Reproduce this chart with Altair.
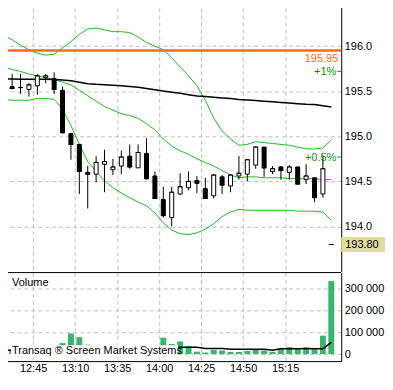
import altair as alt
import pandas as pd

# 5-minute bar start times (first one only feeds the indicator lines)
times = ["12:25", "12:30", "12:35", "12:40", "12:45", "12:50", "12:55", "13:00", "13:05", "13:10",
         "13:15", "13:20", "13:25", "13:30", "13:35", "13:40", "13:45", "13:50", "13:55", "14:00",
         "14:05", "14:10", "14:15", "14:20", "14:25", "14:30", "14:35", "14:40", "14:45", "14:50",
         "14:55", "15:00", "15:05", "15:10", "15:15", "15:20", "15:25", "15:30", "15:35", "15:40"]

# OHLC for bars 12:30 .. 15:40
opens = [195.55, 195.54, 195.52, 195.56, 195.65, 195.64, 195.51, 195.03, 194.91, 194.60,
         194.58, 194.69, 194.63, 194.67, 194.78, 194.65, 194.81, 194.56, 194.30, 194.10,
         194.36, 194.43, 194.51, 194.42, 194.34, 194.55, 194.45, 194.56, 194.58, 194.68,
         194.88, 194.61, 194.66, 194.60, 194.66, 194.52, 194.54, 194.36, 193.80]
highs = [195.69, 195.69, 195.59, 195.69, 195.69, 195.71, 195.55, 195.04, 194.91, 194.67,
         194.78, 194.85, 194.75, 194.84, 194.91, 194.91, 194.98, 194.61, 194.44, 194.44,
         194.59, 194.61, 194.56, 194.54, 194.58, 194.57, 194.58, 194.78, 194.74, 194.89,
         194.88, 194.67, 194.67, 194.68, 194.66, 194.69, 194.54, 194.79, 193.80]
lows = [195.52, 195.47, 195.44, 195.46, 195.59, 195.47, 195.03, 194.74, 194.36, 194.20,
        194.49, 194.38, 194.57, 194.58, 194.64, 194.65, 194.52, 194.31, 194.10, 194.00,
        194.35, 194.40, 194.37, 194.31, 194.31, 194.36, 194.38, 194.52, 194.50, 194.64,
        194.55, 194.58, 194.52, 194.52, 194.47, 194.47, 194.27, 194.32, 193.80]
closes = [195.53, 195.54, 195.57, 195.67, 195.67, 195.52, 195.04, 194.91, 194.61, 194.58,
          194.71, 194.72, 194.66, 194.77, 194.66, 194.82, 194.53, 194.31, 194.12, 194.38,
          194.44, 194.50, 194.48, 194.31, 194.57, 194.46, 194.57, 194.59, 194.74, 194.88,
          194.65, 194.64, 194.62, 194.66, 194.47, 194.56, 194.32, 194.64, 193.80]
volumes = [14000, 9000, 6000, 11000, 8000, 12000, 50000, 94000, 77000, 43000,
           20000, 15000, 24000, 18000, 12000, 16000, 26000, 30000, 75000, 46000,
           58000, 36000, 11000, 7000, 19000, 16000, 10000, 10000, 14000, 22000,
           16000, 10000, 27000, 32000, 22000, 32000, 22000, 84000, 333000]

# indicators for bars 12:25 .. 15:40
bb_upper = [196.12, 196.07, 196.01, 195.96, 195.92, 195.90, 195.91, 195.98, 196.05, 196.13,
            196.19, 196.20, 196.18, 196.16, 196.16, 196.15, 196.10, 196.04, 196.00, 195.96,
            195.87, 195.77, 195.67, 195.56, 195.40, 195.20, 195.06, 194.97, 194.90, 194.91,
            194.94, 194.93, 194.92, 194.91, 194.90, 194.88, 194.86, 194.86, 194.87, 194.96]
bb_middle = [195.77, 195.74, 195.72, 195.69, 195.67, 195.65, 195.63, 195.60, 195.57, 195.51,
             195.45, 195.39, 195.33, 195.29, 195.25, 195.23, 195.20, 195.14, 195.07, 194.97,
             194.89, 194.84, 194.80, 194.75, 194.71, 194.67, 194.62, 194.57, 194.54, 194.55,
             194.55, 194.54, 194.54, 194.54, 194.53, 194.53, 194.53, 194.53, 194.52, 194.52]
bb_lower = [195.41, 195.40, 195.40, 195.40, 195.42, 195.42, 195.41, 195.30, 195.12, 194.91,
            194.72, 194.61, 194.51, 194.43, 194.37, 194.32, 194.27, 194.23, 194.15, 194.04,
            193.96, 193.92, 193.91, 193.93, 193.97, 194.03, 194.11, 194.16, 194.19, 194.18,
            194.18, 194.18, 194.18, 194.18, 194.18, 194.17, 194.17, 194.17, 194.16, 194.07]
ma_long = [195.635, 195.634, 195.633, 195.633, 195.632, 195.632, 195.631, 195.624, 195.615, 195.599,
           195.583, 195.576, 195.572, 195.567, 195.560, 195.551, 195.544, 195.530, 195.516, 195.501,
           195.489, 195.476, 195.461, 195.448, 195.440, 195.434, 195.425, 195.418, 195.409, 195.403,
           195.396, 195.389, 195.382, 195.375, 195.368, 195.361, 195.355, 195.352, 195.339, 195.326]
vol_ma = [18000, 18000, 30000, 29000, 28000, 27000, 26000, 28000, 32000, 34000,
          34000, 33000, 31000, 29000, 27000, 25000, 24000, 25000, 27000, 30000,
          31000, 31700, 31700, 31500, 26000, 26000, 26000, 21700, 21700, 21700,
          21700, 21700, 17400, 24300, 24300, 24300, 24300, 24300, 24300, 53500]

resistance = [195.95]
pct_levels = [195.72, 194.77]
pct_labels = ["+1%", "+0.5%"]
last_price = [193.80]
time_ticks = ["12:45", "13:10", "13:35", "14:00", "14:25", "14:50", "15:15"]


def to_min(s, shift=0.0):
    hh, mm = s.split(":")
    return int(hh) * 60 + int(mm) + shift


tc = [to_min(s, 2.5) for s in times]
ind = pd.DataFrame({"t": tc, "upper": bb_upper, "middle": bb_middle, "lower": bb_lower,
                    "ma": ma_long, "vma": vol_ma})
cdf = pd.DataFrame({"t": tc[1:], "open": opens, "high": highs, "low": lows, "close": closes})
cdf["up"] = cdf["close"] >= cdf["open"]
vdf = pd.DataFrame({"t": tc[1:], "volume": volumes})
res_df = pd.DataFrame({"price": resistance, "label": ["%.2f" % v for v in resistance]})
pct_df = pd.DataFrame({"price": pct_levels, "label": pct_labels})
last_df = pd.DataFrame({"price": last_price, "label": ["%.2f" % v for v in last_price]})

FONT = "Liberation Sans"
FS = 11
GREEN = "#1cbb1c"
GRID = "#c0c0c0"
W = 341      # plot width
HP = 272     # price panel height
HV = 89      # volume panel height
SV = HV / 93.0
xdom = [749.45, 945.45]
xvals = [to_min(s) for s in time_ticks]
label_expr = "floor(datum.value/60) + ':' + (datum.value % 60 < 10 ? '0' : '') + (datum.value % 60)"


def X(field, labels=False):
    if labels:
        ax = alt.Axis(values=xvals, grid=True, ticks=False, domain=True, labels=True,
                      labelExpr=label_expr, labelPadding=1, title=None, labelFlush=False)
    else:
        ax = alt.Axis(values=xvals, grid=True, ticks=False, domain=False, labels=False, title=None)
    return alt.X(field, type="quantitative", scale=alt.Scale(domain=xdom, nice=False, zero=False), axis=ax)


def YP(field):
    return alt.Y(field, type="quantitative",
                 scale=alt.Scale(domain=[193.5, 196.5], nice=False, zero=False),
                 axis=alt.Axis(orient="right", values=[194.0, 194.5, 195.0, 195.5, 196.0], format=".1f",
                               grid=True, ticks=False, domain=True, labelPadding=3, title=None))


def YV(field):
    return alt.Y(field, type="quantitative",
                 scale=alt.Scale(domain=[-32000, 372000], nice=False, zero=False),
                 axis=alt.Axis(orient="right", values=[0, 100000, 200000, 300000],
                               labelExpr="replace(format(datum.value, ','), ',', ' ')",
                               grid=True, ticks=False, domain=True, labelPadding=3, title=None))


bands = alt.Chart(ind).transform_fold(["upper", "middle", "lower"], as_=["band", "value"]).mark_line(
    color=GREEN, strokeWidth=1, clip=True).encode(x=X("t"), y=YP("value"), detail="band:N")
ma_line = alt.Chart(ind).mark_line(color="black", strokeWidth=1.5, clip=True).encode(x=X("t"), y=YP("ma"))
res_line = alt.Chart(res_df).mark_rule(color="#ff6a21", strokeWidth=2.5).encode(y=YP("price"))
res_text = alt.Chart(res_df).mark_text(align="right", baseline="middle", dy=8.6, font=FONT, fontSize=FS,
                                       color="#ff6a21").encode(x=alt.value(338), y=YP("price"), text="label")
pct_text = alt.Chart(pct_df).mark_text(align="right", baseline="middle", dy=1, font=FONT, fontSize=FS,
                                       color="#009900").encode(x=alt.value(336), y=YP("price"), text="label")
pct_tick = alt.Chart(pct_df).mark_rule(color="#009900").encode(x=alt.value(337), x2=alt.value(341), y=YP("price"))
wicks = alt.Chart(cdf).mark_rule(color="black", strokeWidth=1).encode(x=X("t"), y=YP("low"), y2="high")
bodies = alt.Chart(cdf).mark_bar(size=4, stroke="black", strokeWidth=1).encode(
    x=X("t"), y=YP("open"), y2="close",
    fill=alt.condition("datum.up", alt.value("white"), alt.value("black")))
cticks = alt.Chart(cdf).mark_tick(orient="horizontal", size=5, thickness=1, color="black").encode(
    x=X("t"), y=YP("close"))
last_box = alt.Chart(last_df).mark_rect(color="#e0dc9c", yOffset=-7.5, y2Offset=7.5).encode(
    x=alt.value(W), x2=alt.value(W + 44), y=YP("price"), y2="price")
last_text = alt.Chart(last_df).mark_text(align="left", baseline="middle", font=FONT, fontSize=FS,
                                         color="black").encode(x=alt.value(W + 4), y=YP("price"), text="label")

price = alt.layer(bands, ma_line, res_line, wicks, bodies, cticks, res_text, pct_text, pct_tick,
                  last_box, last_text).properties(width=W, height=HP)

vbars = alt.Chart(vdf).mark_bar(size=6, color="#3cb371").encode(x=X("t", True), y=YV("volume"), y2=alt.datum(0))
vma_line = alt.Chart(ind).mark_line(color="black", strokeWidth=1.5, clip=True).encode(x=X("t", True), y=YV("vma"))
box = alt.Chart(pd.DataFrame({"a": [0]})).mark_rect(color="white").encode(
    x=alt.value(9), x2=alt.value(177), y=alt.value(76.3 * SV), y2=alt.value(89.5 * SV))
wm = alt.Chart(pd.DataFrame({"txt": ["Transaq \u00ae Screen Market Systems"]})).mark_text(
    align="left", baseline="middle", font=FONT, fontSize=11, color="black").encode(
    x=alt.value(10), y=alt.value(82.5 * SV), text="txt")
vlabel = alt.Chart(pd.DataFrame({"txt": ["Volume"]})).mark_text(
    align="left", baseline="middle", font=FONT, fontSize=FS, color="black").encode(
    x=alt.value(10), y=alt.value(11.3 * SV), text="txt")
topline = alt.Chart(pd.DataFrame({"a": [0]})).mark_rule(color="black", strokeWidth=1).encode(y=alt.value(0))

volume = alt.layer(vbars, vma_line, box, wm, vlabel, topline).properties(width=W, height=HV)

chart = alt.vconcat(price, volume, spacing=0).resolve_scale(x="independent", y="independent").properties(
    padding={"left": -8, "top": -8, "right": 0, "bottom": 0},
    background="white",
).configure_view(stroke=None).configure_axis(
    labelFont=FONT, labelFontSize=FS, labelColor="black", domainColor="black", domainWidth=1,
    gridColor=GRID, gridDash=[4, 3], gridWidth=1,
)

chart.save("out.html", embed_options={"renderer": "svg", "actions": False})
